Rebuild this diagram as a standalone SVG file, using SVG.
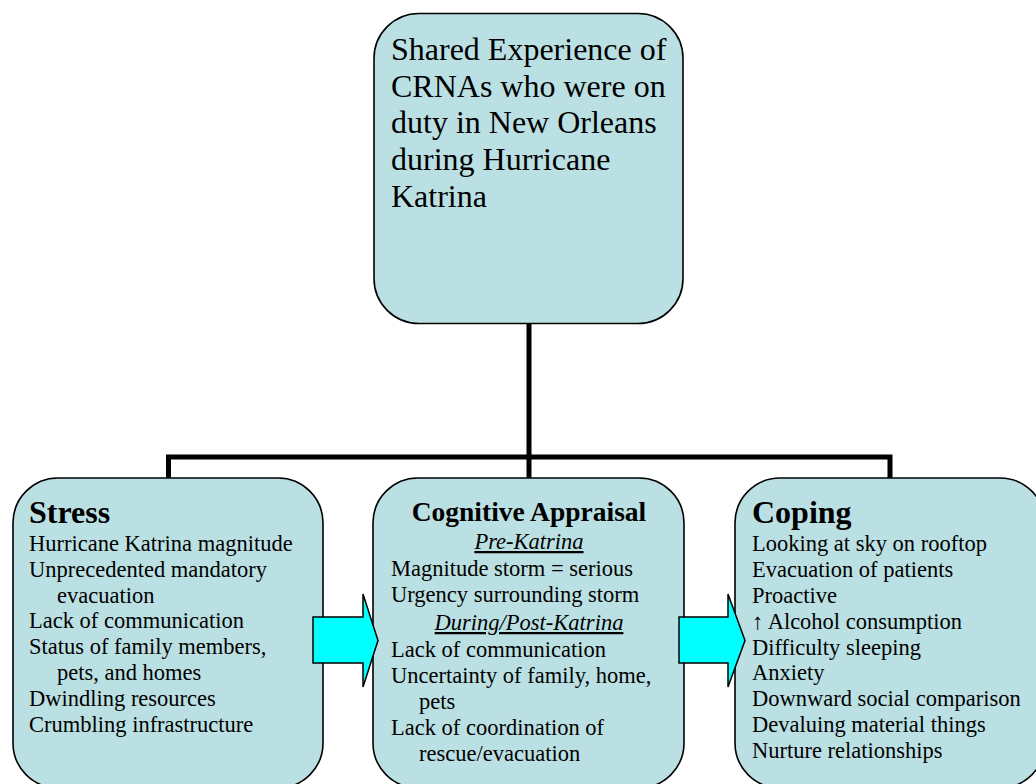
<svg xmlns="http://www.w3.org/2000/svg" width="1036" height="784" viewBox="0 0 1036 784">
<style>
.box{fill:#BBE0E3;stroke:#000;stroke-width:1.6}
.t{font-family:"Liberation Serif","Times New Roman",serif;font-size:22.5px;fill:#000}
.h{font-family:"Liberation Serif","Times New Roman",serif;font-size:32px;font-weight:bold;fill:#000}
.h2{font-family:"Liberation Serif","Times New Roman",serif;font-size:27.5px;font-weight:bold;fill:#000}
.it{font-family:"Liberation Serif","Times New Roman",serif;font-size:22.5px;font-style:italic;text-decoration:underline;fill:#000}
.top{font-family:"Liberation Serif","Times New Roman",serif;font-size:32px;fill:#000}
.conn{fill:none;stroke:#000;stroke-width:5}
.arrow{fill:#00FFFF;stroke:#000;stroke-width:1.5;stroke-linejoin:miter}
</style>
<rect width="1036" height="784" fill="#fff"/>
<g id="connectors">
<path class="conn" d="M529,323 V478 M168.5,478 V457 H890 V478"/>
</g>
<g id="node-shared">
<rect class="box" x="374" y="13.5" width="309" height="310" rx="45" ry="45"/>
<text class="top" x="391" y="60">Shared Experience of</text>
<text class="top" x="391" y="96.7">CRNAs who were on</text>
<text class="top" x="391" y="133.3">duty in New Orleans</text>
<text class="top" x="391" y="170">during Hurricane</text>
<text class="top" x="391" y="206.7">Katrina</text>
</g>
<g id="node-stress">
<rect class="box" x="13" y="478" width="310" height="310" rx="45" ry="45"/>
<text class="h" x="29" y="523">Stress</text>
<text class="t" x="29" y="551">Hurricane Katrina magnitude</text>
<text class="t" x="29" y="576.7">Unprecedented mandatory</text>
<text class="t" x="57" y="602.5">evacuation</text>
<text class="t" x="29" y="628.3">Lack of communication</text>
<text class="t" x="29" y="654">Status of family members,</text>
<text class="t" x="57" y="680">pets, and homes</text>
<text class="t" x="29" y="705.8">Dwindling resources</text>
<text class="t" x="29" y="731.6">Crumbling infrastructure</text>
</g>
<g id="node-appraisal">
<rect class="box" x="373" y="478" width="311" height="310" rx="45" ry="45"/>
<text class="h2" x="529" y="521" text-anchor="middle">Cognitive Appraisal</text>
<text class="it" x="529" y="549" text-anchor="middle">Pre-Katrina</text>
<text class="t" x="391" y="576">Magnitude storm = serious</text>
<text class="t" x="391" y="602">Urgency surrounding storm</text>
<text class="it" x="529" y="630" text-anchor="middle">During/Post-Katrina</text>
<text class="t" x="391" y="657">Lack of communication</text>
<text class="t" x="391" y="683">Uncertainty of family, home,</text>
<text class="t" x="419" y="709">pets</text>
<text class="t" x="391" y="735">Lack of coordination of</text>
<text class="t" x="419" y="761">rescue/evacuation</text>
</g>
<g id="node-coping">
<rect class="box" x="735" y="478" width="310" height="310" rx="45" ry="45"/>
<text class="h" x="752" y="523">Coping</text>
<text class="t" x="752" y="551">Looking at sky on rooftop</text>
<text class="t" x="752" y="577">Evacuation of patients</text>
<text class="t" x="752" y="602.7">Proactive</text>
<text class="t" x="752" y="628.7">↑ Alcohol consumption</text>
<text class="t" x="752" y="654.5">Difficulty sleeping</text>
<text class="t" x="752" y="680.3">Anxiety</text>
<text class="t" x="752" y="706">Downward social comparison</text>
<text class="t" x="752" y="731.8">Devaluing material things</text>
<text class="t" x="752" y="757.6">Nurture relationships</text>
</g>
<g id="arrow-1">
<path class="arrow" d="M313,617 H363 V594 L378,640.5 L363,687 V663 H313 Z"/>
</g>
<g id="arrow-2">
<path class="arrow" d="M679,617 H728 V594 L745,640.5 L728,687 V663 H679 Z"/>
</g>
</svg>
